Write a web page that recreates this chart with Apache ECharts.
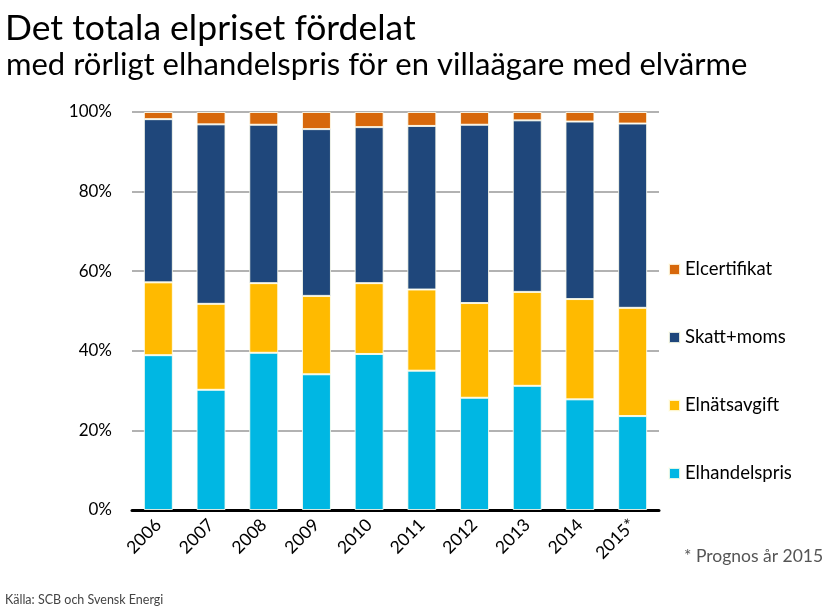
<!DOCTYPE html>
<html>
<head>
<meta charset="utf-8">
<script src="https://cdn.jsdelivr.net/npm/echarts@6/dist/echarts.min.js"></script>
<style>
html,body{margin:0;padding:0;background:#fff;}
#c{width:829px;height:614px;}
</style>
</head>
<body>
<div id="c"></div>
<script>
const categories = ['2006','2007','2008','2009','2010','2011','2012','2013','2014','2015*'];
const elhandelspris = [38.9, 30.2, 39.5, 34.1, 39.2, 35.0, 28.2, 31.2, 27.8, 23.6];
const elnatsavgift  = [18.3, 21.6, 17.5, 19.7, 17.8, 20.4, 23.8, 23.6, 25.2, 27.2];
const skattMoms     = [41.0, 45.1, 39.8, 41.9, 39.2, 41.1, 44.8, 43.1, 44.6, 46.3];
const elcertifikat  = [1.8, 3.1, 3.2, 4.3, 3.8, 3.5, 3.2, 2.1, 2.4, 2.9];
const yTicks = [0, 20, 40, 60, 80, 100];

const FONT = 'Lato, "Open Sans", sans-serif';
const chart = echarts.init(document.getElementById('c'));
const barStyle = (color) => ({ color: color, borderColor: 'rgba(255,255,240,0.85)', borderWidth: 1 });

chart.setOption({
  animation: false,
  textStyle: { fontFamily: FONT },
  title: [
    { text: 'Det totala elpriset fördelat', left: 0, top: 6,
      textStyle: { fontFamily: FONT, fontSize: 35.5, fontWeight: 'normal', color: '#000' } },
    { text: 'med rörligt elhandelspris för en villaägare med elvärme', left: 1, top: 44,
      textStyle: { fontFamily: FONT, fontSize: 31, fontWeight: 'normal', color: '#000' } }
  ],
  grid: { left: 132, right: 170, top: 112, bottom: 104, containLabel: false },
  legend: {
    orient: 'vertical', left: 663, top: 255,
    itemWidth: 11, itemHeight: 11, itemGap: 49,
    data: ['Elcertifikat', 'Skatt+moms', 'Elnätsavgift', 'Elhandelspris'],
    textStyle: { fontFamily: FONT, fontSize: 18.5, color: '#000', lineHeight: 18 },
    icon: 'rect'
  },
  xAxis: {
    type: 'category', data: categories,
    axisLine: { lineStyle: { color: '#000', width: 3 } },
    axisTick: { show: false },
    axisLabel: { rotate: 45, fontSize: 17.5, color: '#000', margin: 12, fontFamily: FONT }
  },
  yAxis: {
    type: 'value', min: 0, max: 100, interval: 20,
    axisLine: { show: false }, axisTick: { show: false },
    splitLine: { lineStyle: { color: '#999', width: 1.5 } },
    axisLabel: { formatter: v => yTicks.includes(v) ? v + '%' : '', fontSize: 17, color: '#000', margin: 20, fontFamily: FONT }
  },
  series: [
    { name: 'Elhandelspris', type: 'bar', stack: 't', barWidth: '55%', data: elhandelspris, itemStyle: barStyle('#00B7E3') },
    { name: 'Elnätsavgift', type: 'bar', stack: 't', data: elnatsavgift, itemStyle: barStyle('#FFBA00') },
    { name: 'Skatt+moms', type: 'bar', stack: 't', data: skattMoms, itemStyle: barStyle('#1F477B') },
    { name: 'Elcertifikat', type: 'bar', stack: 't', data: elcertifikat, itemStyle: barStyle('#D7680B') }
  ],
  graphic: [
    { type: 'text', left: 684, top: 547, style: { text: '* Prognos år 2015', fontFamily: FONT, fontSize: 17.5, fill: '#555' } },
    { type: 'text', left: 5, top: 593, style: { text: 'Källa: SCB och Svensk Energi', fontFamily: FONT, fontSize: 12.5, fill: '#444' } }
  ]
});
</script>
</body>
</html>
